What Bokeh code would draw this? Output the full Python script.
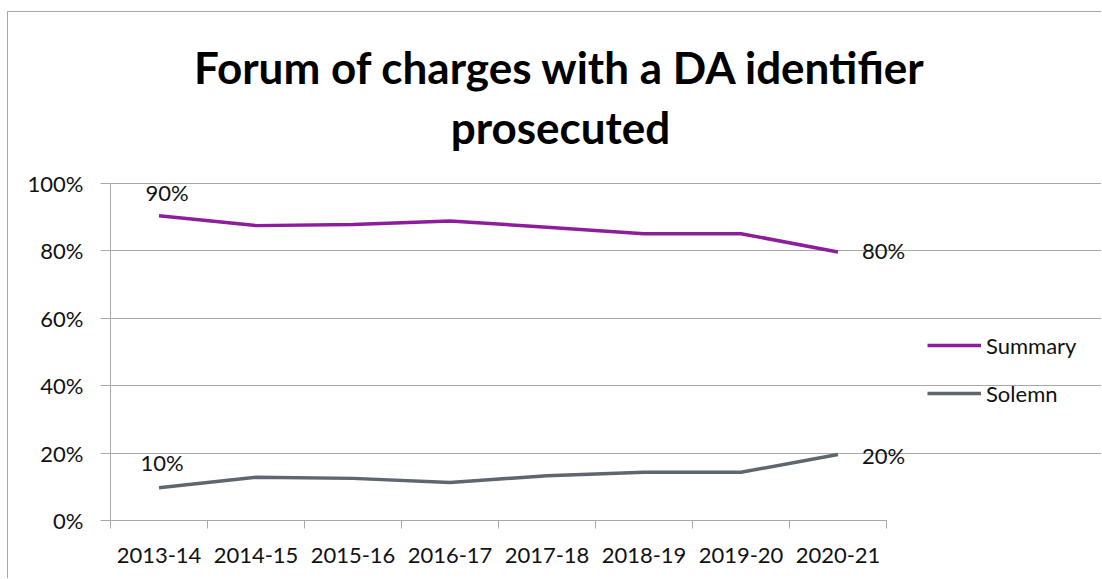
from bokeh.plotting import figure
from bokeh.models import (Range1d, LinearAxis, FixedTicker, CustomJSTickFormatter,
                          NumeralTickFormatter, Legend, LegendItem, Label, LabelSet, ColumnDataSource)
from bokeh.core.properties import value
from bokeh.embed import file_html
from bokeh.resources import INLINE

categories = ["2013-14", "2014-15", "2015-16", "2016-17", "2017-18", "2018-19", "2019-20", "2020-21"]
summary = [0.904, 0.875, 0.878, 0.889, 0.870, 0.851, 0.851, 0.797]
solemn = [0.097, 0.128, 0.125, 0.113, 0.133, 0.143, 0.143, 0.196]
series_names = ["Summary", "Solemn"]
y_ticks = [0, 0.2, 0.4, 0.6, 0.8, 1.0]
title_lines = ["Forum of charges with a DA identifier", "prosecuted"]
lab_text = ["90%", "80%", "10%", "20%"]

n = len(categories)
xpos = [i + 0.5 for i in range(n)]  # category centres

PURPLE = "#8C1E9C"
GREY = "#5E6670"
GRID = "#A8A8A8"
FONT = "Lato"
TXT = "#111111"

# layout geometry (pixels)
W, H = 1094, 567
LEFT, BOTTOM = 102, 59
PX_X = 97.0      # pixels per category
PX_Y = 337.0     # pixels per unit of y (0..100%)
frame_w = W - LEFT
frame_h = H - BOTTOM

p = figure(width=W, height=H, output_backend="svg", toolbar_location=None,
           x_range=Range1d(0, frame_w / PX_X), y_range=Range1d(0, frame_h / PX_Y),
           x_axis_location=None, y_axis_location=None,
           min_border_left=LEFT, min_border_right=0, min_border_top=0, min_border_bottom=BOTTOM)
p.styles = {"margin-top": "11px", "margin-left": "7px",
            "border-top": "1px solid #A8A8A8", "border-left": "1px solid #A8A8A8"}
p.outline_line_color = None
p.background_fill_color = "white"
p.border_fill_color = "white"

# y axis
yaxis = LinearAxis(ticker=FixedTicker(ticks=y_ticks, minor_ticks=[]),
                   formatter=NumeralTickFormatter(format="0%"), bounds=(0, 1))
yaxis.axis_line_color = GRID
yaxis.major_tick_line_color = GRID
yaxis.major_tick_out = 10
yaxis.major_tick_in = 0
yaxis.minor_tick_line_color = None
yaxis.major_label_standoff = 17
yaxis.major_label_text_font = FONT
yaxis.major_label_text_font_size = "22px"
yaxis.major_label_text_color = TXT
p.add_layout(yaxis, "left")

# x axis: ticks at category boundaries, labels at centres
xaxis = LinearAxis(ticker=FixedTicker(ticks=xpos, minor_ticks=list(range(n + 1))),
                   formatter=CustomJSTickFormatter(args=dict(labels=categories),
                                                   code="return labels[Math.floor(tick)] || ''"),
                   bounds=(0, n))
xaxis.axis_line_color = GRID
xaxis.major_tick_line_color = None
xaxis.major_tick_out = 0
xaxis.major_tick_in = 0
xaxis.minor_tick_line_color = GRID
xaxis.minor_tick_out = 8
xaxis.minor_tick_in = 0
xaxis.major_label_standoff = 19
xaxis.major_label_text_font = FONT
xaxis.major_label_text_font_size = "22px"
xaxis.major_label_text_color = TXT
p.add_layout(xaxis, "below")

p.ygrid.ticker = FixedTicker(ticks=y_ticks)
p.ygrid.bounds = (0, n)
p.ygrid.grid_line_color = GRID
p.ygrid.grid_line_width = 1
p.xgrid.grid_line_color = None

r1 = p.line(xpos, summary, line_color=PURPLE, line_width=3.5)
r2 = p.line(xpos, solemn, line_color=GREY, line_width=3.5)

# data labels (first point above, last point to the right)
src = ColumnDataSource(dict(x=[xpos[0], xpos[0]], y=[summary[0], solemn[0]], t=[lab_text[0], lab_text[2]],
                            xo=[8, 3], yo=[23, 25]))
p.add_layout(LabelSet(x="x", y="y", text="t", source=src, x_offset="xo", y_offset="yo",
                      text_align="center", text_baseline="middle", text_font=value(FONT),
                      text_font_size=value("22px"), text_color=TXT))
src2 = ColumnDataSource(dict(x=[xpos[-1], xpos[-1]], y=[summary[-1], solemn[-1]], t=[lab_text[1], lab_text[3]],
                             yo=[1, -1]))
p.add_layout(LabelSet(x="x", y="y", text="t", source=src2, x_offset=24, y_offset="yo",
                      text_align="left", text_baseline="middle", text_font=value(FONT),
                      text_font_size=value("22px"), text_color=TXT))

# legend
legend = Legend(items=[LegendItem(label=series_names[0], renderers=[r1]),
                       LegendItem(label=series_names[1], renderers=[r2])],
                location=(817, 113), orientation="vertical")
legend.glyph_width = 54
legend.glyph_height = 28
legend.label_height = 28
legend.label_standoff = 5
legend.spacing = 20
legend.padding = 0
legend.margin = 0
legend.border_line_color = None
legend.background_fill_alpha = 0
legend.label_text_font = FONT
legend.label_text_font_size = "22px"
legend.label_text_color = TXT
p.add_layout(legend)

# title (two centred lines)
p.add_layout(Label(x=4.639, y=1.345, text=title_lines[0], text_align="center", text_baseline="alphabetic",
                   text_font=FONT, text_font_style="bold", text_font_size="44px", text_color="black"))
p.add_layout(Label(x=4.639, y=1.168, text=title_lines[1], text_align="center", text_baseline="alphabetic",
                   text_font=FONT, text_font_style="bold", text_font_size="44px", text_color="black"))

open("out.html", "w").write(file_html(p, INLINE))
